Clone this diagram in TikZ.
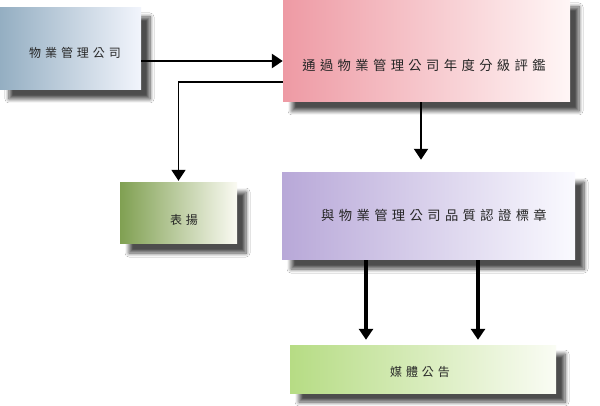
\documentclass[tikz,border=0pt]{standalone}
\usepackage{fontspec}
\newfontfamily\cjk[LetterSpace=33]{Noto Sans CJK TC}
\usetikzlibrary{arrows.meta,shadows.blur}
\definecolor{txt}{HTML}{262626}
\tikzset{
  box/.style={rectangle, draw=none, inner sep=0pt,
    blur shadow={shadow xshift=9pt, shadow yshift=-9pt, shadow blur steps=8, shadow blur radius=4pt, shadow opacity=70}},
  lbl/.style={font=\cjk\fontsize{12}{13}\selectfont, text=txt, inner sep=0pt},
  big/.style={font=\cjk\fontsize{13.3}{14}\selectfont},
  arr/.style={draw=black, -{Triangle[width=14pt,length=11pt]}},
}
\begin{document}
\begin{tikzpicture}[x=1pt,y=-1pt]
\useasboundingbox[fill=white] (0,0) rectangle (600,406);
% boxes
\node[box, minimum width=141pt, minimum height=82pt, left color={rgb,255:red,148;green,174;blue,194}, right color={rgb,255:red,242;green,245;blue,252}] (b1) at (70.5,49) {};
\node[box, minimum width=287pt, minimum height=104pt, left color={rgb,255:red,238;green,154;blue,164}, right color={rgb,255:red,255;green,246;blue,246}] (b2) at (426.5,50) {};
\node[box, minimum width=117pt, minimum height=61pt, left color={rgb,255:red,128;green,160;blue,82}, right color={rgb,255:red,250;green,250;blue,242}] (b5) at (178.5,213.5) {};
\node[box, minimum width=293pt, minimum height=87pt, left color={rgb,255:red,184;green,168;blue,216}, right color={rgb,255:red,250;green,250;blue,255}] (b3) at (428.5,216.5) {};
\node[box, minimum width=266pt, minimum height=48pt, left color={rgb,255:red,182;green,220;blue,132}, right color={rgb,255:red,250;green,252;blue,244}] (b4) at (423,369) {};
% labels
\node[lbl] (t1) at (75,53) {物業管理公司};
\node[lbl, big] (t2) at (424,65) {通過物業管理公司年度分級評鑑};
\node[lbl] (t5) at (184,220) {表揚};
\node[lbl, big] (t3) at (434,215) {與物業管理公司品質認證標章};
\node[lbl] (t4) at (420,372) {媒體公告};
% helper coordinates
\coordinate (y61) at (0,61);
\coordinate (y82) at (0,82);
\coordinate (x421) at (421,0);
\coordinate (x366) at (366,0);
\coordinate (x478) at (478,0);
% connectors
\draw[arr, line width=2.5pt] (b1.east |- y61) -- (b2.west |- y61);
\draw[arr, line width=1.6pt, shorten >=2pt] (b2.west |- y82) -| (b5.north);
\draw[arr, line width=2pt, shorten >=13pt] (x421 |- b2.south) -- (x421 |- b3.north);
\draw[arr, line width=3.5pt, shorten >=5pt] (x366 |- b3.south) -- (x366 |- b4.north);
\draw[arr, line width=3.5pt, shorten >=5pt] (x478 |- b3.south) -- (x478 |- b4.north);
\end{tikzpicture}
\end{document}
